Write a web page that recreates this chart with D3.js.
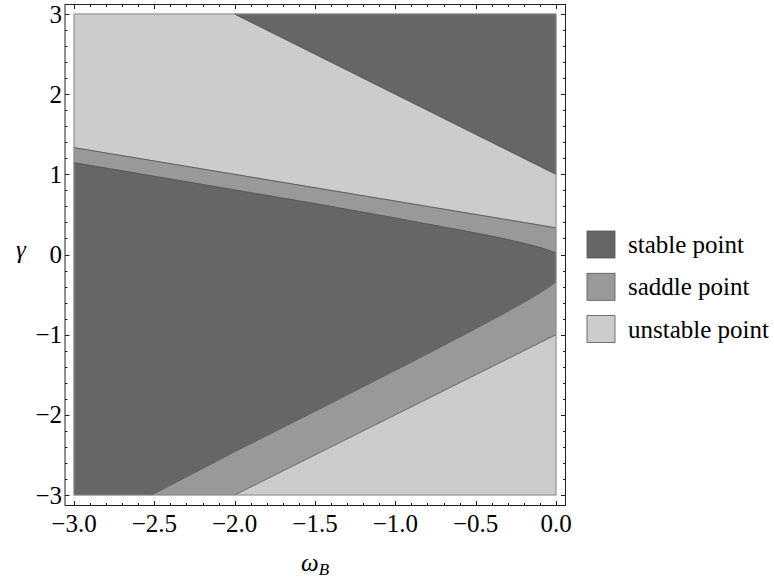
<!DOCTYPE html>
<html><head><meta charset="utf-8">
<script src="https://cdn.jsdelivr.net/npm/d3@7"></script>
<style>body{margin:0;background:#fff}</style>
</head><body>
<svg id="c" width="774" height="578" font-family="Times New Roman"></svg>
<script>
// ---- data ----
const omegaTickValues = [-3, -2.5, -2, -1.5, -1, -0.5, 0];
const omegaTickLabels = ["−3.0", "−2.5", "−2.0", "−1.5", "−1.0", "−0.5", "0.0"];
const gammaTickValues = [-3, -2, -1, 0, 1, 2, 3];
const gammaTickLabels = ["−3", "−2", "−1", "0", "1", "2", "3"];
const categories = ["stable point", "saddle point", "unstable point"];
const categoryColors = ["#666666", "#999999", "#cccccc"];

// boundary curves (omega, gamma)
const topLineOmega = [-2, 0];
const topLineGamma = [3, 1];
const saddleTopOmega = [-3, 0];
const saddleTopGamma = [1.333, 0.333];
const upperCurveOmega = [-3, -2.5, -2, -1.5, -1, -0.72, -0.5, -0.35, -0.2, -0.1, -0.05, 0];
const upperCurveGamma = [1.145, 0.975, 0.805, 0.635, 0.455, 0.35, 0.268, 0.208, 0.14, 0.088, 0.055, 0.018];
const lowerCurveOmega = [-2.516, -2, -1.5, -1, -0.72, -0.5, -0.35, -0.2, -0.1, -0.05, 0];
const lowerCurveGamma = [-3, -2.46, -1.955, -1.445, -1.156, -0.925, -0.764, -0.597, -0.478, -0.413, -0.343];
const bottomLineOmega = [-2, 0];
const bottomLineGamma = [-3, -1];

// ---- layout ----
const FONT = "Times New Roman";
const svg = d3.select("#c");
const x = d3.scaleLinear().domain([-3, 0]).range([74, 556]);
const y = d3.scaleLinear().domain([-3, 3]).range([495, 14]);
const frame = {x0: 65, y0: 4.5, x1: 565.5, y1: 505.5};

const pts = (o, g) => o.map((v, i) => [v, g[i]]);
const topPts = pts(topLineOmega, topLineGamma);
const sTopPts = pts(saddleTopOmega, saddleTopGamma);
const upPts = pts(upperCurveOmega, upperCurveGamma);
const lowPts = pts(lowerCurveOmega, lowerCurveGamma);
const botPts = pts(bottomLineOmega, bottomLineGamma);
const xmin = x.domain()[0], xmax = x.domain()[1], ymin = y.domain()[0], ymax = y.domain()[1];

const regions = [
  {c: 2, p: [[xmin, ymax], ...topPts, ...sTopPts.slice().reverse()]},
  {c: 0, p: [topPts[0], [xmax, ymax], topPts[topPts.length - 1]]},
  {c: 1, p: [...sTopPts, ...upPts.slice().reverse()]},
  {c: 0, p: [...upPts, ...lowPts.slice().reverse(), [xmin, ymin]]},
  {c: 1, p: [...lowPts, ...botPts.slice().reverse()]},
  {c: 2, p: [...botPts, [xmax, ymin]]}
];

const line = d3.line().x(d => x(d[0])).y(d => y(d[1]));
const g = svg.append("g");
g.selectAll("path.reg").data(regions).join("path")
  .attr("class", "reg")
  .attr("d", d => line(d.p) + "Z")
  .attr("fill", d => categoryColors[d.c])
  .attr("stroke", d => categoryColors[d.c])
  .attr("stroke-width", 0.6);

g.selectAll("path.bnd").data([topPts, sTopPts, upPts, lowPts, botPts]).join("path")
  .attr("class", "bnd")
  .attr("d", d => line(d))
  .attr("fill", "none")
  .attr("stroke", "#555")
  .attr("stroke-width", 0.9);

g.append("rect")
  .attr("x", x(xmin)).attr("y", y(ymax))
  .attr("width", x(xmax) - x(xmin)).attr("height", y(ymin) - y(ymax))
  .attr("fill", "none").attr("stroke", "#8a8a8a").attr("stroke-width", 1);

// ---- frame & ticks ----
const fr = svg.append("g").attr("stroke", "#222").attr("stroke-width", 1).attr("fill", "none");
fr.append("rect").attr("x", frame.x0).attr("y", frame.y0)
  .attr("width", frame.x1 - frame.x0).attr("height", frame.y1 - frame.y0);

const xMinor = d3.range(-30, 1).map(v => v / 10);
const yMinor = d3.range(-15, 16).map(v => v / 5);
const isMajorX = v => Math.abs(v * 2 - Math.round(v * 2)) < 1e-6;
const isMajorY = v => Math.abs(v - Math.round(v)) < 1e-6;

xMinor.forEach(v => {
  const L = isMajorX(v) ? 4.5 : 2.5;
  const px = Math.round(x(v)) + 0.5;
  fr.append("line").attr("x1", px).attr("x2", px).attr("y1", frame.y1).attr("y2", frame.y1 - L);
  fr.append("line").attr("x1", px).attr("x2", px).attr("y1", frame.y0).attr("y2", frame.y0 + L);
});
yMinor.forEach(v => {
  const L = isMajorY(v) ? 4.5 : 2.5;
  const py = Math.round(y(v)) + 0.5;
  fr.append("line").attr("y1", py).attr("y2", py).attr("x1", frame.x0).attr("x2", frame.x0 + L);
  fr.append("line").attr("y1", py).attr("y2", py).attr("x1", frame.x1).attr("x2", frame.x1 - L);
});

const txt = sel => sel.attr("font-family", FONT).attr("font-size", 25).attr("fill", "#000");

svg.append("g").selectAll("text").data(omegaTickValues).join("text")
  .attr("x", d => x(d)).attr("y", 532)
  .attr("text-anchor", "middle")
  .call(txt)
  .text((d, i) => omegaTickLabels[i]);
svg.append("g").selectAll("text").data(gammaTickValues).join("text")
  .attr("x", 62).attr("y", d => y(d) + 8.5)
  .attr("text-anchor", "end")
  .call(txt)
  .text((d, i) => gammaTickLabels[i]);

// axis labels
const xl = svg.append("text").attr("x", 315).attr("y", 571).attr("text-anchor", "middle")
  .call(txt).attr("font-style", "italic");
xl.append("tspan").text("ω");
xl.append("tspan").attr("font-size", 17).attr("dy", 4).text("B");
svg.append("text").attr("x", 21).attr("y", 258).attr("text-anchor", "middle")
  .call(txt).attr("font-style", "italic").text("γ");

// legend
const lg = svg.append("g");
categories.forEach((c, i) => {
  const cy = 244.5 + i * 42.3;
  lg.append("rect").attr("x", 587).attr("y", cy - 13.5).attr("width", 28).attr("height", 27)
    .attr("fill", categoryColors[i]).attr("stroke", "#555").attr("stroke-width", 0.8);
  lg.append("text").attr("x", 628).attr("y", cy + 8.5)
    .call(txt).text(c);
});
</script>
</body></html>
